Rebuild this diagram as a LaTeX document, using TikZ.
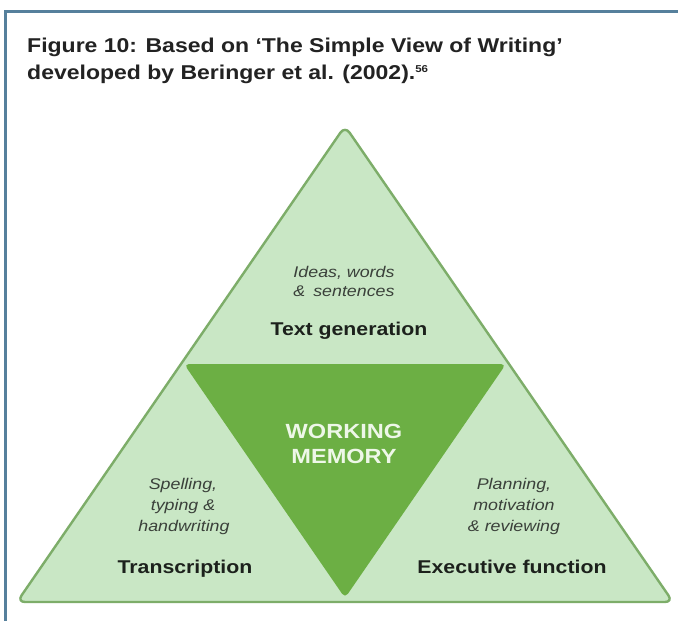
\documentclass[tikz,border=0pt]{standalone}
\usepackage{fontspec}
\newfontfamily\labelfont[FakeStretch=1.15]{Liberation Sans}
\definecolor{framecol}{HTML}{56809C}
\definecolor{outerfill}{HTML}{C9E7C5}
\definecolor{outerline}{HTML}{7DAD69}
\definecolor{innerfill}{HTML}{6CAF44}
\definecolor{corewhite}{HTML}{EEF7E8}
\definecolor{titlegray}{HTML}{222222}
\definecolor{labeldark}{HTML}{1C211C}
\definecolor{notegray}{HTML}{3A403A}
\begin{document}
\begin{tikzpicture}[x=1pt,y=-1pt,
  titletext/.style={font=\labelfont\bfseries\fontsize{20}{24}\selectfont, text=titlegray, anchor=base west, inner sep=0pt},
  areaname/.style={font=\labelfont\bfseries\fontsize{18.5}{22}\selectfont, text=labeldark, anchor=base, inner sep=0pt},
  areanote/.style={font=\labelfont\itshape\fontsize{15.5}{19}\selectfont, text=notegray, anchor=base, inner sep=0pt},
  coretext/.style={font=\labelfont\bfseries\fontsize{20.5}{25}\selectfont, text=corewhite, anchor=base, inner sep=0pt}]
\useasboundingbox (0,0) rectangle (678,621);
\fill[white] (0,0) rectangle (678,621);

% frame lines on the top and left edges
\draw[framecol, line width=3pt] (5,621) -- (5,11) -- (678,11);

% title
\node[titletext] (title1) at (27,52) {Figure 10: Based on ‘The Simple View of Writing’};
\node[titletext] (title2) at (27,79) {developed by Beringer et al. (2002).\raisebox{7pt}{\fontsize{10}{12}\selectfont 56}};

% outer triangle
\coordinate (apex) at (345,126);
\coordinate (bl) at (17,602);
\coordinate (br) at (673,602);
\draw[outerline, fill=outerfill, line width=2.4pt, rounded corners=8pt, line join=round]
  (apex) -- (bl) -- (br) -- cycle;

% inner inverted triangle
\coordinate (ml) at (184,364);
\coordinate (mr) at (506,364);
\coordinate (mb) at (345,598);
\fill[innerfill, rounded corners=5pt] (ml) -- (mr) -- (mb) -- cycle;

% top section
\node[areanote] (ideas1) at (344,277) {Ideas, words};
\node[areanote] (ideas2) at (344,296) {\&\hspace{3pt} sentences};
\node[areaname] (textgen) at (349,335) {Text generation};

% centre
\node[coretext] (wm1) at (344,438) {WORKING};
\node[coretext] (wm2) at (344,463) {MEMORY};

% left section
\node[areanote] (tr1) at (183,489) {Spelling,};
\node[areanote] (tr2) at (183,510) {typing \&};
\node[areanote] (tr3) at (184,531) {handwriting};
\node[areaname] (transcr) at (185,573) {Transcription};

% right section
\node[areanote] (ef1) at (514,489) {Planning,};
\node[areanote] (ef2) at (514,510) {motivation};
\node[areanote] (ef3) at (514,531) {\& reviewing};
\node[areaname] (execf) at (512,573) {Executive function};
\end{tikzpicture}
\end{document}
